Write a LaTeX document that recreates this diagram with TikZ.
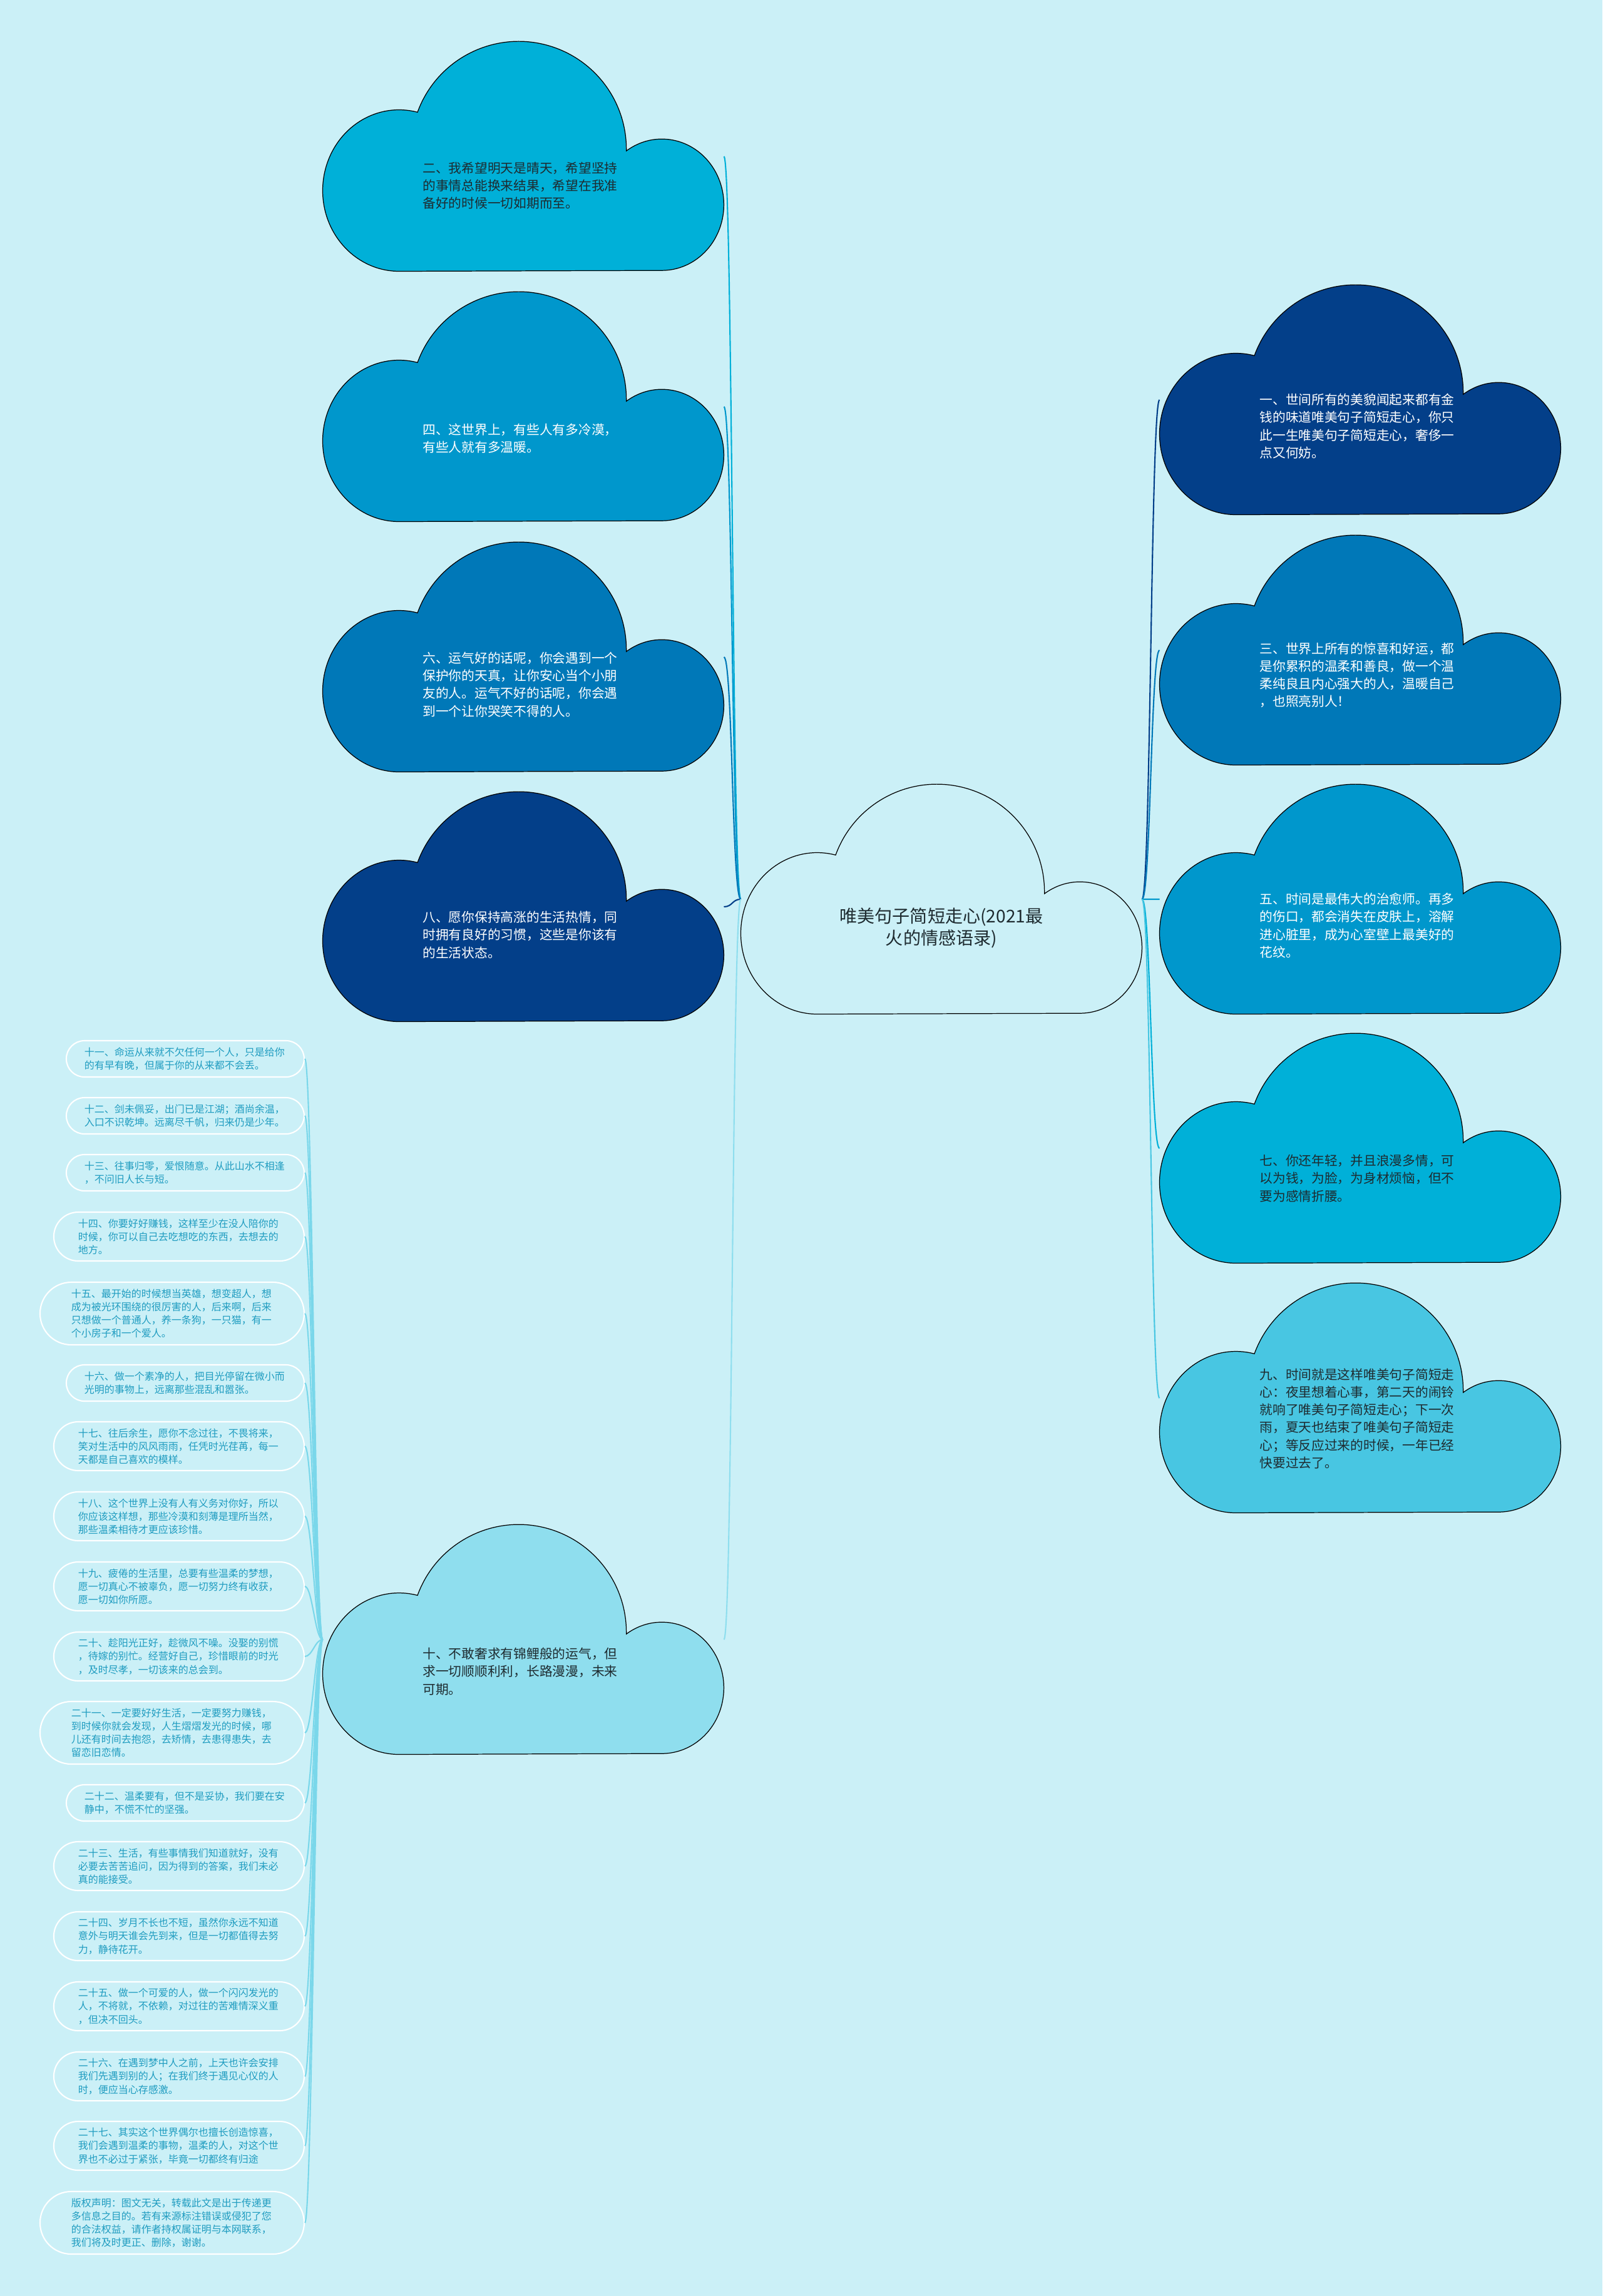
\documentclass[tikz,border=0pt]{standalone}
\usepackage{fontspec}
\setmainfont{Noto Sans CJK SC}
\usetikzlibrary{positioning}
\definecolor{skybg}{HTML}{CBF0F7}
\definecolor{cyanA}{HTML}{00B0D8}
\definecolor{cyanB}{HTML}{0097CC}
\definecolor{blueC}{HTML}{0078B8}
\definecolor{navyD}{HTML}{033F89}
\definecolor{cyanE}{HTML}{48C6E2}
\definecolor{paleF}{HTML}{8FDEEE}
\definecolor{inkdark}{HTML}{1E2B30}
\definecolor{tipteal}{HTML}{1F9CC0}
\newcommand{\cloudfont}{\fontsize{5.9}{8}\selectfont}
\newcommand{\centerfont}{\fontsize{8}{10}\selectfont}
\newcommand{\tipfont}{\fontsize{4.55}{6}\selectfont}

\tikzset{
  cloudshape/.pic={
    \path[pic actions] (1.22,0)
      arc[start angle=270, end angle=76, x radius=1.22, y radius=1.29]
      arc[start angle=160, end angle=-1, radius=1.72]
      arc[start angle=125, end angle=-90, x radius=0.99, y radius=1.05] -- cycle;
  },
  cloudbox/.style={minimum width=6.41cm, minimum height=3.67cm, inner sep=0pt, outer sep=0pt},
  cloudline/.style={draw=black, line width=0.35pt},
  cloudtext/.style={font=\cloudfont, text width=3.15cm, align=left, inner sep=0pt},
  centertext/.style={font=\centerfont, text=inkdark, align=center, inner sep=0pt},
  tipbox/.style={draw=white, line width=0.6pt, text=tipteal, font=\tipfont,
    text width=3.22cm, align=left, inner ysep=0pt, inner xsep=#1, rounded corners=#1,
    minimum height=2*#1, anchor=east},
  link/.style={line width=0.6pt}
}

\begin{document}
\begin{tikzpicture}
        % Background
        \fill[skybg] (0,0) rectangle (25.6,-36.69);

        % Cloud frames
        \node[cloudbox] (c0) at (15.04,-14.37) {};
        \node[cloudbox] (c2) at (8.36,-2.50) {};
        \node[cloudbox, below=0.33cm of c2] (c4) {};
        \node[cloudbox, below=0.33cm of c4] (c6) {};
        \node[cloudbox, below=0.32cm of c6] (c8) {};
        \node[cloudbox] (c10) at (8.36,-26.20) {};
        \node[cloudbox] (c1) at (21.73,-6.39) {};
        \node[cloudbox, below=0.33cm of c1] (c3) {};
        \node[cloudbox, below=0.31cm of c3] (c5) {};
        \node[cloudbox, below=0.31cm of c5] (c7) {};
        \node[cloudbox, below=0.32cm of c7] (c9) {};

        % Small quote boxes
        \node[tipbox=0.29cm] (b11) at (4.87,-16.92) {十一、命运从来就不欠任何一个人，只是给你\\的有早有晚，但属于你的从来都不会丢。};
        \node[tipbox=0.29cm] (b12) at (4.87,-17.83) {十二、剑未佩妥，出门已是江湖；酒尚余温，\\入口不识乾坤。远离尽千帆，归来仍是少年。};
        \node[tipbox=0.29cm] (b13) at (4.87,-18.74) {十三、往事归零，爱恨随意。从此山水不相逢\\，不问旧人长与短。};
        \node[tipbox=0.39cm] (b14) at (4.87,-19.76) {十四、你要好好赚钱，这样至少在没人陪你的\\时候，你可以自己去吃想吃的东西，去想去的\\地方。};
        \node[tipbox=0.5cm] (b15) at (4.87,-20.99) {十五、最开始的时候想当英雄，想变超人，想\\成为被光环围绕的很厉害的人，后来啊，后来\\只想做一个普通人，养一条狗，一只猫，有一\\个小房子和一个爱人。};
        \node[tipbox=0.29cm] (b16) at (4.87,-22.10) {十六、做一个素净的人，把目光停留在微小而\\光明的事物上，远离那些混乱和嚣张。};
        \node[tipbox=0.39cm] (b17) at (4.87,-23.11) {十七、往后余生，愿你不念过往，不畏将来，\\笑对生活中的风风雨雨，任凭时光荏苒，每一\\天都是自己喜欢的模样。};
        \node[tipbox=0.39cm] (b18) at (4.87,-24.23) {十八、这个世界上没有人有义务对你好，所以\\你应该这样想，那些冷漠和刻薄是理所当然，\\那些温柔相待才更应该珍惜。};
        \node[tipbox=0.39cm] (b19) at (4.87,-25.35) {十九、疲倦的生活里，总要有些温柔的梦想，\\愿一切真心不被辜负，愿一切努力终有收获，\\愿一切如你所愿。};
        \node[tipbox=0.39cm] (b20) at (4.87,-26.47) {二十、趁阳光正好，趁微风不噪。没娶的别慌\\，待嫁的别忙。经营好自己，珍惜眼前的时光\\，及时尽孝，一切该来的总会到。};
        \node[tipbox=0.5cm] (b21) at (4.87,-27.69) {二十一、一定要好好生活，一定要努力赚钱，\\到时候你就会发现，人生熠熠发光的时候，哪\\儿还有时间去抱怨，去矫情，去患得患失，去\\留恋旧恋情。};
        \node[tipbox=0.29cm] (b22) at (4.87,-28.81) {二十二、温柔要有，但不是妥协，我们要在安\\静中，不慌不忙的坚强。};
        \node[tipbox=0.39cm] (b23) at (4.87,-29.82) {二十三、生活，有些事情我们知道就好，没有\\必要去苦苦追问，因为得到的答案，我们未必\\真的能接受。};
        \node[tipbox=0.39cm] (b24) at (4.87,-30.94) {二十四、岁月不长也不短，虽然你永远不知道\\意外与明天谁会先到来，但是一切都值得去努\\力，静待花开。};
        \node[tipbox=0.39cm] (b25) at (4.87,-32.06) {二十五、做一个可爱的人，做一个闪闪发光的\\人，不将就，不依赖，对过往的苦难情深义重\\，但决不回头。};
        \node[tipbox=0.39cm] (b26) at (4.87,-33.18) {二十六、在遇到梦中人之前，上天也许会安排\\我们先遇到别的人；在我们终于遇见心仪的人\\时，便应当心存感激。};
        \node[tipbox=0.39cm] (b27) at (4.87,-34.29) {二十七、其实这个世界偶尔也擅长创造惊喜，\\我们会遇到温柔的事物，温柔的人，对这个世\\界也不必过于紧张，毕竟一切都终有归途};
        \node[tipbox=0.5cm] (b28) at (4.87,-35.52) {版权声明：图文无关，转载此文是出于传递更\\多信息之目的。若有来源标注错误或侵犯了您\\的合法权益，请作者持权属证明与本网联系，\\我们将及时更正、删除，谢谢。};

        % Links
        \foreach \k/\col in {2/cyanA,4/cyanB,6/blueC,8/navyD,10/paleF}
            \draw[link,\col] (c0.west) .. controls +(-0.14,0) and +(0.14,0) .. (c\k.east);
        \foreach \k/\col in {1/navyD,3/blueC,5/cyanB,7/cyanA,9/cyanE}
            \draw[link,\col] (c0.east) .. controls +(0.14,0) and +(-0.14,0) .. (c\k.west);
        \foreach \k in {11,...,28}
            \draw[link,paleF!70!cyanE] (c10.west) .. controls +(-0.12,0) and +(0.12,0) .. (b\k.east);

        % Clouds
        \pic[fill=skybg, cloudline] at (c0.south west) {cloudshape};
        \pic[fill=cyanA, cloudline] at (c2.south west) {cloudshape};
        \pic[fill=cyanB, cloudline] at (c4.south west) {cloudshape};
        \pic[fill=blueC, cloudline] at (c6.south west) {cloudshape};
        \pic[fill=navyD, cloudline] at (c8.south west) {cloudshape};
        \pic[fill=paleF, cloudline] at (c10.south west) {cloudshape};
        \pic[fill=navyD, cloudline] at (c1.south west) {cloudshape};
        \pic[fill=blueC, cloudline] at (c3.south west) {cloudshape};
        \pic[fill=cyanB, cloudline] at (c5.south west) {cloudshape};
        \pic[fill=cyanA, cloudline] at (c7.south west) {cloudshape};
        \pic[fill=cyanE, cloudline] at (c9.south west) {cloudshape};

        % Cloud texts
        \node[centertext] (t0) at ([yshift=-0.46cm]c0.center) {唯美句子简短走心(2021最\\火的情感语录)};
        \node[cloudtext, text=inkdark] (t2) at ([shift={(-0.03,-0.47)}]c2.center) {二、我希望明天是晴天，希望坚持\\的事情总能换来结果，希望在我准\\备好的时候一切如期而至。};
        \node[cloudtext, text=white] (t4) at ([shift={(-0.03,-0.51)}]c4.center) {四、这世界上，有些人有多冷漠，\\有些人就有多温暖。};
        \node[cloudtext, text=white] (t6) at ([shift={(-0.03,-0.44)}]c6.center) {六、运气好的话呢，你会遇到一个\\保护你的天真，让你安心当个小朋\\友的人。运气不好的话呢，你会遇\\到一个让你哭笑不得的人。};
        \node[cloudtext, text=white] (t8) at ([shift={(-0.03,-0.45)}]c8.center) {八、愿你保持高涨的生活热情，同\\时拥有良好的习惯，这些是你该有\\的生活状态。};
        \node[cloudtext, text=inkdark] (t10) at ([shift={(-0.03,-0.51)}]c10.center) {十、不敢奢求有锦鲤般的运气，但\\求一切顺顺利利，长路漫漫，未来\\可期。};
        \node[cloudtext, text=white] (t1) at ([shift={(-0.03,-0.42)}]c1.center) {一、世间所有的美貌闻起来都有金\\钱的味道唯美句子简短走心，你只\\此一生唯美句子简短走心，奢侈一\\点又何妨。};
        \node[cloudtext, text=white] (t3) at ([shift={(-0.03,-0.40)}]c3.center) {三、世界上所有的惊喜和好运，都\\是你累积的温柔和善良，做一个温\\柔纯良且内心强大的人，温暖自己\\，也照亮别人！};
        \node[cloudtext, text=white] (t5) at ([shift={(-0.03,-0.42)}]c5.center) {五、时间是最伟大的治愈师。再多\\的伤口，都会消失在皮肤上，溶解\\进心脏里，成为心室壁上最美好的\\花纹。};
        \node[cloudtext, text=inkdark] (t7) at ([shift={(-0.03,-0.48)}]c7.center) {七、你还年轻，并且浪漫多情，可\\以为钱，为脸，为身材烦恼，但不\\要为感情折腰。};
        \node[cloudtext, text=inkdark] (t9) at ([shift={(-0.03,-0.33)}]c9.center) {九、时间就是这样唯美句子简短走\\心：夜里想着心事，第二天的闹铃\\就响了唯美句子简短走心；下一次\\雨，夏天也结束了唯美句子简短走\\心；等反应过来的时候，一年已经\\快要过去了。};
\end{tikzpicture}
\end{document}
